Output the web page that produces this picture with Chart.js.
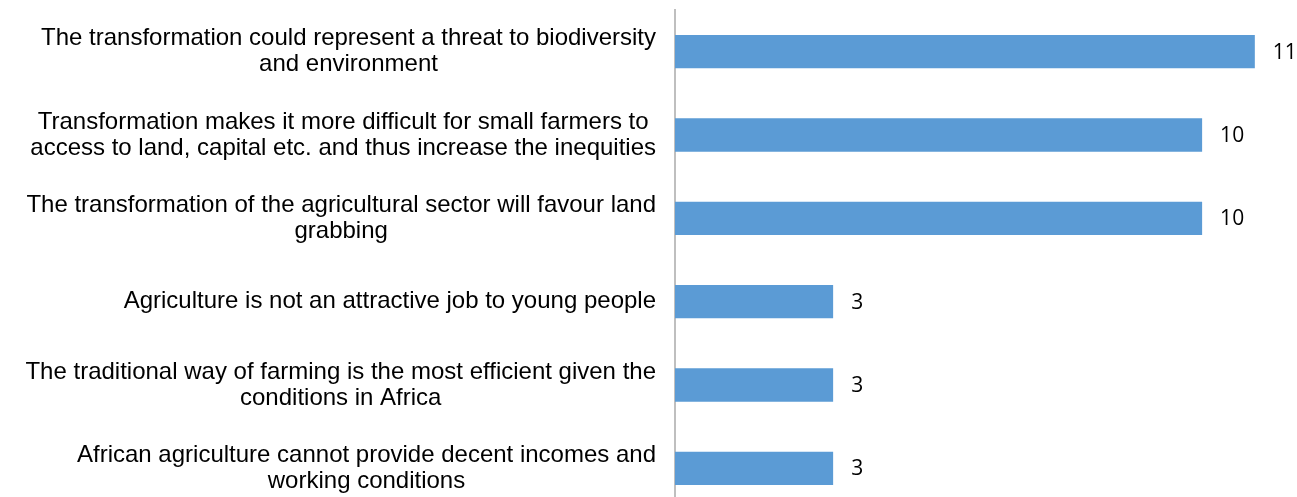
<!DOCTYPE html>
<html>
<head>
<meta charset="utf-8">
<script src="https://cdn.jsdelivr.net/npm/chart.js@4"></script>
<style>
  html, body { margin: 0; padding: 0; background: #fff; overflow: hidden; }
  #wrap { width: 1297px; height: 510px; }
</style>
</head>
<body>
<div id="wrap"><canvas id="barChart" width="1297" height="510"></canvas></div>
<script>
// Data
var categories = [
    ["The transformation could represent a threat to biodiversity", "and environment"],
    ["Transformation makes it more difficult for small farmers to", "access to land, capital etc. and thus increase the inequities"],
    ["The transformation of the agricultural sector will favour land", "grabbing"],
    ["Agriculture is not an attractive job to young people"],
    ["The traditional way of farming is the most efficient given the", "conditions in Africa"],
    ["African agriculture cannot provide decent incomes and", "working conditions"]
];
var counts = [11, 10, 10, 3, 3, 3];

// Category labels: each block centred on its own lines, right-aligned to the axis
var labelPlugin = {
    id: 'labels',
    afterDraw: function (chart) {
        var ctx = chart.ctx;
        var yScale = chart.scales.y;
        var xScale = chart.scales.x;
        var rightEdge = chart.chartArea.left - 19;
        var lineHeight = 26;
        ctx.save();
        ctx.font = '24px "Liberation Sans", Arial, sans-serif';
        ctx.fillStyle = '#000';
        ctx.textBaseline = 'middle';
        ctx.textAlign = 'center';
        categories.forEach(function (lines, i) {
            var yc = yScale.getPixelForValue(i);
            var widest = 0;
            lines.forEach(function (l) { widest = Math.max(widest, ctx.measureText(l).width); });
            var cx = rightEdge - widest / 2;
            var top = yc - (lines.length - 1) * lineHeight / 2;
            lines.forEach(function (l, j) {
                ctx.fillText(l, cx, top + j * lineHeight);
            });
        });
        // value labels
        ctx.font = '21px "Open Sans", "Liberation Sans", sans-serif';
        ctx.textAlign = 'left';
        counts.forEach(function (v, i) {
            ctx.fillText(String(v), xScale.getPixelForValue(v) + 18, yScale.getPixelForValue(i) + 1);
        });
        ctx.restore();
    }
};

var ctx = document.getElementById('barChart').getContext('2d');
new Chart(ctx, {
    type: 'bar',
    data: {
        labels: categories.map(function (c) { return c.join(' '); }),
        datasets: [{
            data: counts,
            backgroundColor: '#5B9BD5',
            borderWidth: 0,
            barPercentage: 0.4,
            categoryPercentage: 1
        }]
    },
    options: {
        indexAxis: 'y',
        responsive: false,
        animation: false,
        layout: { padding: { left: 675, right: 0, top: 10, bottom: 0 } },
        plugins: { legend: { display: false }, tooltip: { enabled: false } },
        scales: {
            x: { display: false, min: 0, max: 11.8 },
            y: {
                ticks: { display: false },
                grid: { display: false, drawTicks: false },
                border: { display: true, color: '#BFBFBF', width: 2 },
                afterFit: function (s) { s.width = 0; }
            }
        }
    },
    plugins: [labelPlugin]
});
</script>
</body>
</html>
